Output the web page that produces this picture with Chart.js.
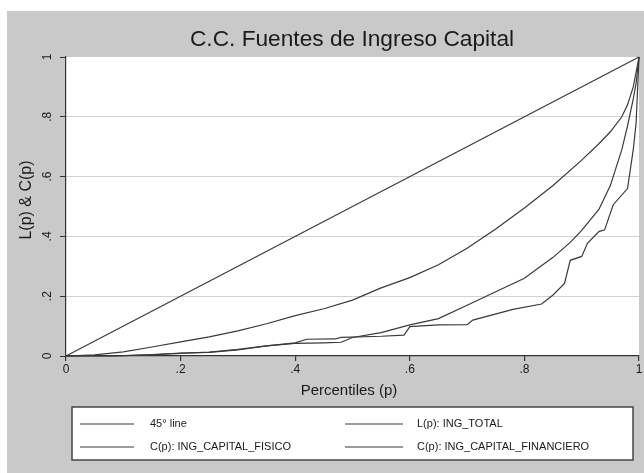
<!DOCTYPE html>
<html>
<head>
<meta charset="utf-8">
<script src="https://cdn.jsdelivr.net/npm/chart.js@4"></script>
<style>
  html, body { margin: 0; padding: 0; background: #fff; }
  canvas { display: block; }
</style>
</head>
<body>
<canvas id="lorenzChart" width="644" height="473"></canvas>
<script>
// Tick values and labels
const pctTicks = [0, 0.2, 0.4, 0.6, 0.8, 1];
const tickLabels = ['0', '.2', '.4', '.6', '.8', '1'];

// 45 degree line
const diagP = [0, 1];
const diagY = [0, 1];

// L(p): ING_TOTAL
const totalP = [0, 0.05, 0.1, 0.15, 0.2, 0.25, 0.3, 0.35, 0.4, 0.45, 0.5, 0.55, 0.6, 0.65, 0.7, 0.75, 0.8, 0.85, 0.9, 0.93, 0.95, 0.97, 0.98, 0.99, 1];
const totalL = [0, 0.004, 0.014, 0.03, 0.047, 0.064, 0.084, 0.108, 0.135, 0.158, 0.187, 0.228, 0.262, 0.305, 0.36, 0.425, 0.495, 0.57, 0.655, 0.71, 0.75, 0.8, 0.84, 0.9, 1];

// C(p): ING_CAPITAL_FISICO
const fisicoP = [0, 0.08, 0.15, 0.2, 0.25, 0.3, 0.35, 0.4, 0.45, 0.48, 0.5, 0.55, 0.6, 0.65, 0.7, 0.75, 0.8, 0.85, 0.88, 0.9, 0.93, 0.95, 0.97, 0.98, 0.99, 0.995, 1];
const fisicoC = [0, 0, 0.004, 0.009, 0.013, 0.022, 0.034, 0.042, 0.044, 0.046, 0.062, 0.078, 0.104, 0.125, 0.17, 0.215, 0.26, 0.33, 0.38, 0.42, 0.49, 0.57, 0.69, 0.77, 0.86, 0.913, 1];

// C(p): ING_CAPITAL_FINANCIERO
const finP = [0, 0.1, 0.15, 0.2, 0.25, 0.3, 0.35, 0.4, 0.42, 0.47, 0.48, 0.55, 0.59, 0.6, 0.65, 0.7, 0.71, 0.78, 0.83, 0.85, 0.87, 0.88, 0.9, 0.91, 0.93, 0.94, 0.955, 0.98, 0.99, 0.995, 1];
const finC = [0, 0.001, 0.005, 0.01, 0.012, 0.02, 0.034, 0.044, 0.056, 0.057, 0.062, 0.066, 0.07, 0.098, 0.104, 0.105, 0.12, 0.156, 0.174, 0.204, 0.243, 0.32, 0.333, 0.377, 0.416, 0.422, 0.506, 0.56, 0.69, 0.78, 1];

const legendItems = ['45° line', 'L(p): ING_TOTAL', 'C(p): ING_CAPITAL_FISICO', 'C(p): ING_CAPITAL_FINANCIERO'];

const FONT = "'Liberation Sans', Arial, sans-serif";
const LINE_COLOR = '#3a3a3a';

function toPoints(xs, ys) {
    return xs.map((x, i) => ({ x: x, y: ys[i] }));
}

function makeSet(label, xs, ys) {
    return {
        label: label,
        data: toPoints(xs, ys),
        showLine: true,
        borderColor: LINE_COLOR,
        borderWidth: 1.2,
        pointRadius: 0,
        tension: 0,
        clip: 3
    };
}

// backgrounds, rotated y ticks, titles and the boxed legend
const stataFrame = {
    id: 'stataFrame',
    beforeDraw(chart) {
        const c = chart.ctx;
        const a = chart.chartArea;
        c.save();
        c.fillStyle = '#ffffff';
        c.fillRect(0, 0, chart.width, chart.height);
        c.fillStyle = '#c9c9c9';
        c.fillRect(7, 11, chart.width - 7, chart.height - 11);
        c.fillStyle = '#ffffff';
        c.fillRect(a.left, a.top, a.right - a.left, a.bottom - a.top);
        c.restore();
    },
    afterDraw(chart) {
        const c = chart.ctx;
        const ys = chart.scales.y;
        c.save();
        c.fillStyle = '#1a1a1a';

        // title
        c.font = '22.7px ' + FONT;
        c.textAlign = 'center';
        c.textBaseline = 'middle';
        c.fillText('C.C. Fuentes de Ingreso Capital', 352, 40);

        // y tick labels, rotated like the original
        c.font = '12px ' + FONT;
        pctTicks.forEach((v, i) => {
            const y = ys.getPixelForValue(v);
            c.save();
            c.translate(48, y);
            c.rotate(-Math.PI / 2);
            c.fillText(tickLabels[i], 0, 0);
            c.restore();
        });

        // y axis title
        c.font = '16px ' + FONT;
        c.save();
        c.translate(27, 200);
        c.rotate(-Math.PI / 2);
        c.fillText('L(p) & C(p)', 0, 0);
        c.restore();

        // x axis title
        c.font = '15px ' + FONT;
        c.fillText('Percentiles (p)', 349, 391);

        // legend box
        c.fillStyle = '#ffffff';
        c.fillRect(72, 407, 561, 53);
        c.strokeStyle = '#444';
        c.lineWidth = 1.5;
        c.strokeRect(72, 407, 561, 53);

        const cols = [[80, 134, 150], [345, 403, 417]];
        const rows = [424, 447];
        c.font = '11px ' + FONT;
        c.textAlign = 'left';
        c.fillStyle = '#1a1a1a';
        c.strokeStyle = LINE_COLOR;
        c.lineWidth = 1.2;
        legendItems.forEach((txt, i) => {
            const col = cols[i % 2];
            const y = rows[Math.floor(i / 2)];
            c.beginPath();
            c.moveTo(col[0], y);
            c.lineTo(col[1], y);
            c.stroke();
            c.fillText(txt, col[2], y);
        });
        c.restore();
    }
};

function initChart() {
    const ctx = document.getElementById('lorenzChart')?.getContext('2d');
    if (!ctx) return;

    new Chart(ctx, {
        type: 'scatter',
        data: {
            datasets: [
                makeSet(legendItems[0], diagP, diagY),
                makeSet(legendItems[1], totalP, totalL),
                makeSet(legendItems[2], fisicoP, fisicoC),
                makeSet(legendItems[3], finP, finC)
            ]
        },
        options: {
            responsive: false,
            animation: false,
            layout: { padding: { left: 0, top: 57, right: 5, bottom: 0 } },
            plugins: {
                legend: { display: false },
                title: { display: false },
                tooltip: { enabled: false }
            },
            scales: {
                x: {
                    type: 'linear',
                    min: 0,
                    max: 1,
                    afterBuildTicks: (s) => { s.ticks = pctTicks.map(v => ({ value: v })); },
                    ticks: {
                        padding: 1,
                        color: '#1a1a1a',
                        font: { family: FONT, size: 12 },
                        maxRotation: 0,
                        callback: (v) => tickLabels[pctTicks.indexOf(v)]
                    },
                    grid: { drawOnChartArea: false, tickLength: 5, tickColor: '#333', lineWidth: 1.2 },
                    border: { color: '#333', width: 1.2 },
                    afterFit: (s) => { s.height = 117; }
                },
                y: {
                    min: 0,
                    max: 1,
                    afterBuildTicks: (s) => { s.ticks = pctTicks.map(v => ({ value: v })); },
                    ticks: { display: false },
                    grid: {
                        color: (g) => (g.tick && g.tick.value > 0 && g.tick.value < 1) ? '#d2d2d2' : 'rgba(0,0,0,0)',
                        tickLength: 6,
                        tickColor: '#333',
                        lineWidth: 1
                    },
                    border: { color: '#333', width: 1.2 },
                    afterFit: (s) => { s.width = 66; }
                }
            }
        },
        plugins: [stataFrame]
    });
}

document.addEventListener('DOMContentLoaded', () => {
    initChart();
});
</script>
</body>
</html>
